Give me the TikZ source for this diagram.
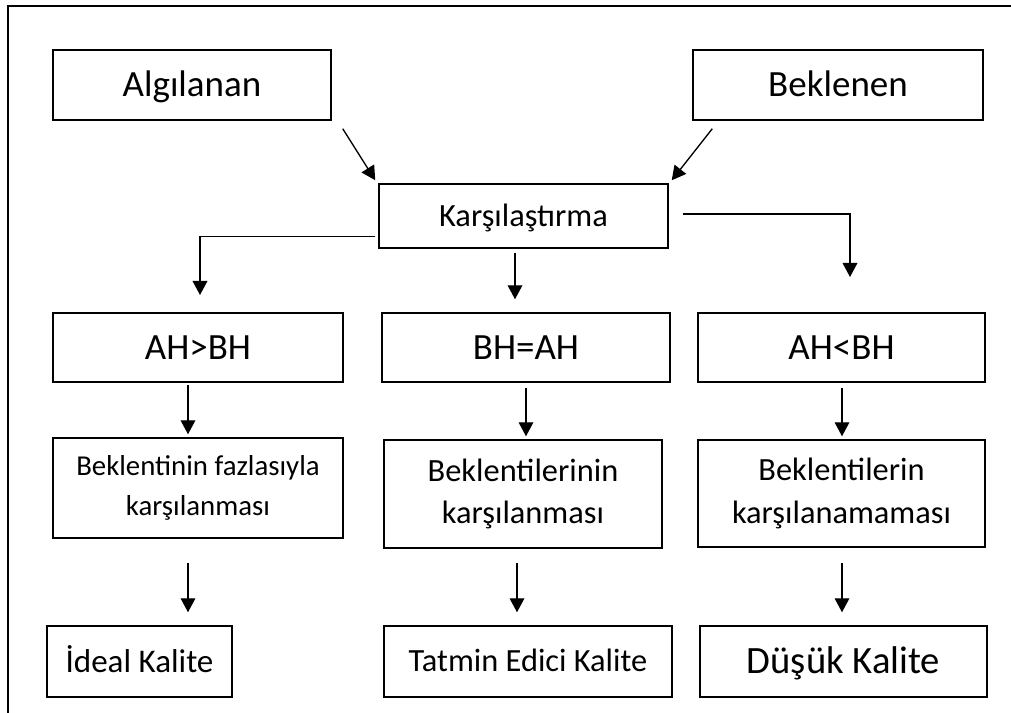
\documentclass[tikz,border=0pt]{standalone}
\usepackage{fontspec}
\setmainfont{Carlito}
\usetikzlibrary{arrows.meta,calc}
\newcommand\mybox[7]{\node[box,#6,minimum width={(#4-#2)*0.75pt},minimum height={(#5-#3)*0.75pt}] (#1) at ({(#2+#4)/2},{(#3+#5)/2}) {#7};}
\begin{document}
\begin{tikzpicture}[x=0.75pt,y=-0.75pt,
  box/.style={draw, line width=1.1pt, inner sep=0pt, align=center},
  one/.style={font=\fontsize{#1}{#1}\selectfont, text height={0.8*#1pt}, text depth={0.16*#1pt}},
  two/.style 2 args={font=\fontsize{#1}{#2}\selectfont},
  arr/.style={-{Triangle[length=10.5pt,width=11pt]}, line width=1pt}]
\useasboundingbox (0,0) rectangle (1011,713);
% frame (left and top edges)
\coordinate (fb) at (7.5,713);
\coordinate (ft) at (7.5,6.5);
\coordinate (fr) at (1011,6.5);
\draw[line width=1.5pt] (fb) -- (ft) -- (fr);
% row 1
\mybox{alg}{53}{50}{331}{120}{one=27.75}{Algılanan}
\mybox{bek}{693}{50}{983}{120}{one=27.75}{Beklenen}
\mybox{kar}{379}{184}{668}{248}{one=24.3}{Karşılaştırma}
% row 2
\mybox{ra}{53}{313}{343}{382}{one=27.75}{AH>BH}
\mybox{rb}{382}{313}{670}{382}{one=27.75}{BH=AH}
\mybox{rc}{698}{313}{985}{382}{one=27.75}{AH<BH}
% row 3
\mybox{sa}{53}{438}{343}{538}{two={21.6}{30}}{Beklentinin fazlasıyla\\karşılanması}
\mybox{sb}{384}{440}{662}{548}{two={24.3}{32}}{Beklentilerinin\\karşılanması}
\mybox{sc}{698}{440}{985}{547}{two={24.3}{32}}{Beklentilerin\\karşılanamaması}
% row 4
\mybox{ta}{47}{626}{232}{697}{one=24.8}{İdeal Kalite}
\mybox{tb}{384}{626}{672}{697}{one=24.3}{Tatmin Edici Kalite}
\mybox{tc}{700}{626}{987}{697}{one=29}{Düşük Kalite}
% connectors
\draw[arr] ($(alg.south east)+(11,8)$) -- ($(kar.north west)+(-3,-3)$);
\draw[arr] ($(bek.south west)+(20,8)$) -- ($(kar.north east)+(3,-3)$);
\coordinate (lt) at (200,295);
\draw[arr] ($(kar.south west)+(-3,-12)$) -| (lt);
\draw[arr] ($(kar.south)+(-8.5,4)$) -- ($(rb.north)+(-11,-13)$);
\coordinate (rt) at (850,277);
\draw[arr] ($(kar.east)+(14,-2)$) -| (rt);
\draw[arr] (188,385) -- ($(sa.north -| 188,0)+(0,-3)$);
\draw[arr] (526,388) -- ($(sb.north -| 526,0)+(0,-3)$);
\draw[arr] (842,388) -- ($(sc.north -| 842,0)+(0,-3)$);
\coordinate (s1) at (188,563);
\coordinate (s2) at (517,563);
\coordinate (s3) at (842,563);
\draw[arr] (s1) -- ($(ta.north -| s1)+(0,-13)$);
\draw[arr] (s2) -- ($(tb.north -| s2)+(0,-13)$);
\draw[arr] (s3) -- ($(tc.north -| s3)+(0,-13)$);
\end{tikzpicture}
\end{document}
